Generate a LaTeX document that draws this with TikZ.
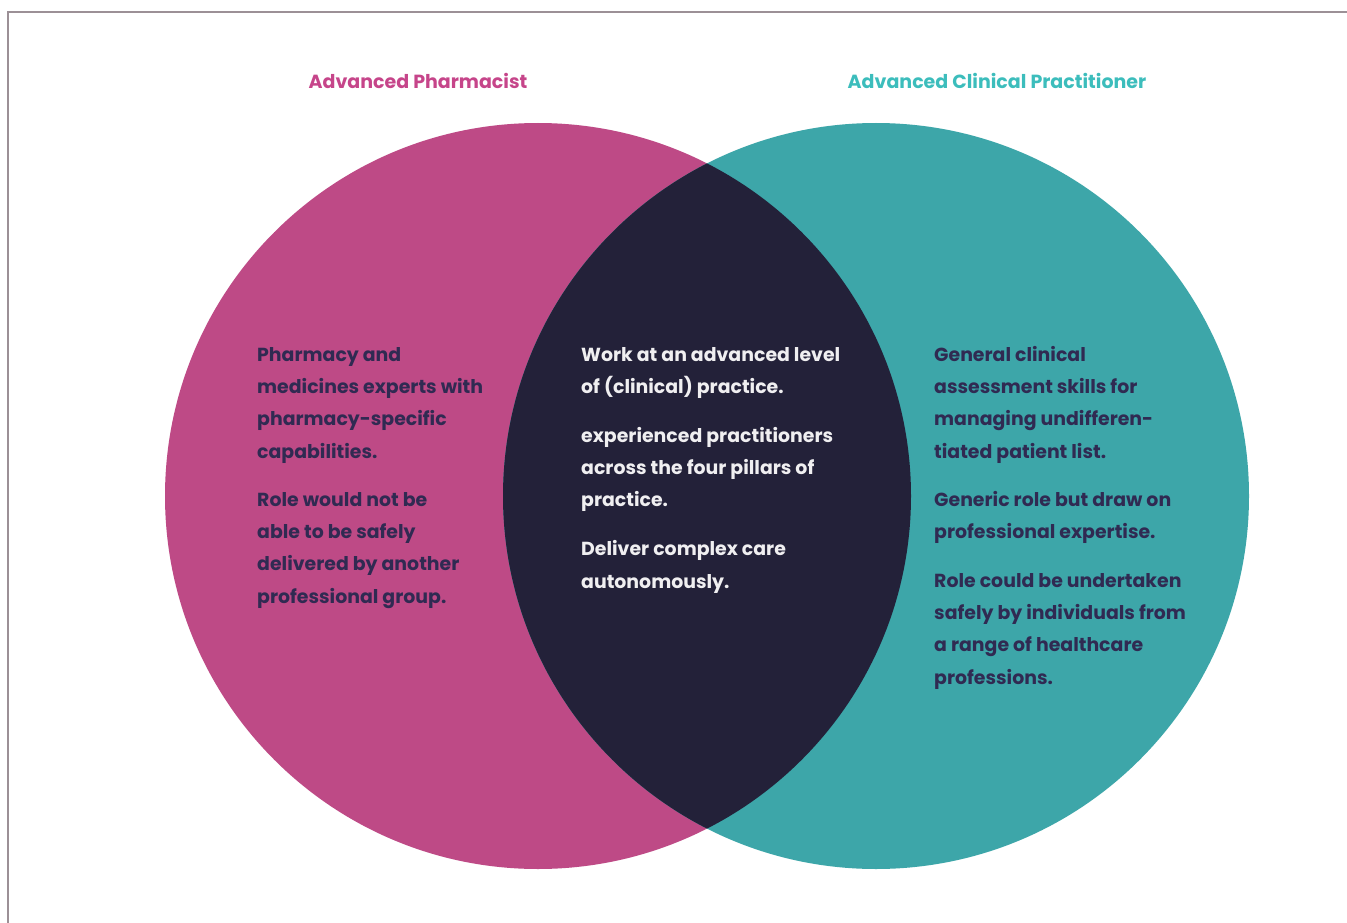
\documentclass[tikz,border=0pt]{standalone}
\usepackage{fontspec}
\setmainfont{Poppins}
\definecolor{pharmpink}{HTML}{BE4A86}
\definecolor{acpteal}{HTML}{3DA6A9}
\definecolor{overlap}{HTML}{232139}
\definecolor{titlepink}{HTML}{C6458A}
\definecolor{titleteal}{HTML}{3CBDBC}
\definecolor{bodyink}{HTML}{302A52}
\definecolor{frame}{HTML}{9C9096}
\tikzset{
  title/.style={font={\fontsize{19}{22}\selectfont\bfseries}, anchor=base},
  body/.style={font={\fontsize{18.9}{32.3}\selectfont\bfseries}, align=left, anchor=north west, inner sep=0pt},
}
\newcommand{\firstline}{\rule{0pt}{20pt}}

\begin{document}
\begin{tikzpicture}[x=1pt,y=-1pt]
\useasboundingbox (0,0) rectangle (1347,923);
\fill[white] (0,0) rectangle (1347,923);
\draw[frame, line width=1.6pt] (1347,12) -- (8,12) -- (8,923);
% circles
\fill[pharmpink] (538,496) circle (373);
\fill[acpteal] (876,496) circle (373);
\begin{scope}
  \clip (538,496) circle (373);
  \fill[overlap] (876,496) circle (373);
\end{scope}
% headings
\node[title, text=titlepink] (pharm) at (418,89) {Advanced Pharmacist};
\node[title, text=titleteal] (acp) at (997,89) {Advanced Clinical Practitioner};
% texts
\node[body, text=bodyink] (lefttext) at (257,341) {\firstline Pharmacy and\\ medicines experts with\\ pharmacy-specific\\ capabilities.\\[15.7pt]
  Role would not be\\ able to be safely\\ delivered by another\\ professional group.};
\node[body, text=white!93!overlap] (midtext) at (581,341) {\firstline Work at an advanced level\\ of (clinical) practice.\\[16.5pt]
  experienced practitioners\\ across the four pillars of\\ practice.\\[16.5pt]
  Deliver complex care\\ autonomously.};
\node[body, text=bodyink] (righttext) at (934,341) {\firstline General clinical\\ assessment skills for\\ managing undifferen-\\ tiated patient list.\\[15.7pt]
  Generic role but draw on\\ professional expertise.\\[16.5pt]
  Role could be undertaken\\ safely by individuals from\\ a range of healthcare\\ professions.};
\end{tikzpicture}
\end{document}
